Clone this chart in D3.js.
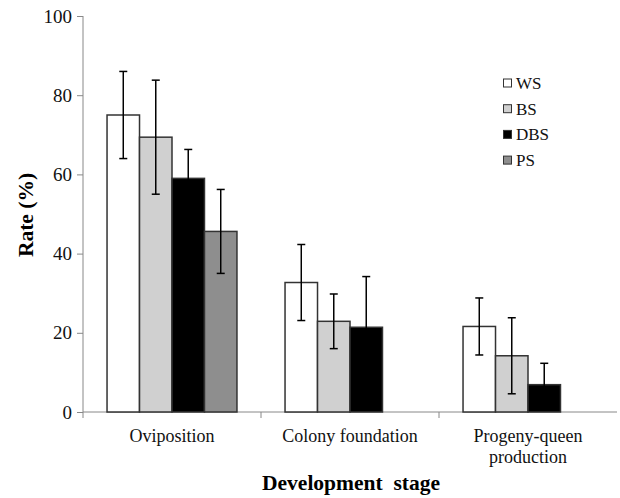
<!DOCTYPE html>
<html><head><meta charset="utf-8">
<script src="https://cdn.jsdelivr.net/npm/d3@7"></script>
<style>body{margin:0;background:#fff}svg{display:block}svg text{font-family:"Liberation Serif","Times New Roman",Times,serif}</style>
</head><body><svg id="c" width="620" height="498"></svg>
<script>
const categories = ["Oviposition", "Colony foundation", "Progeny-queen production"];
const series = ["WS", "BS", "DBS", "PS"];
const colors = ["#ffffff", "#d0d0d0", "#000000", "#8e8e8e"];
const valWS = [75, 32.7, 21.6];
const valBS = [69.4, 22.9, 14.2];
const valDBS = [59.0, 21.4, 6.9];
const valPS = [45.6, null, null];
const errWS = [11, 9.6, 7.2];
const errBS = [14.4, 6.9, 9.6];
const errDBS = [7.3, 12.8, 5.4];
const errPS = [10.6, null, null];
const yTicks = [0, 20, 40, 60, 80, 100];

const values = [valWS, valBS, valDBS, valPS];
const errs = [errWS, errBS, errDBS, errPS];

const svg = d3.select("#c");
const x = d3.scaleBand().domain(categories).range([83, 617]);
const xs = d3.scaleBand().domain(series).range([0, x.bandwidth()]).paddingOuter(0.74).paddingInner(0);
const y = d3.scaleLinear().domain([0, 100]).range([412, 16]);

// y axis
const ya = svg.append("g").attr("transform", "translate(83,0)")
  .call(d3.axisLeft(y).tickValues(yTicks).tickSize(6).tickPadding(5));
ya.attr("font-family", null);
ya.select(".domain").attr("stroke", "#888").attr("d", "M0,16V418");
ya.selectAll(".tick line").attr("stroke", "#888");
ya.selectAll("text").attr("font-size", 19).attr("fill", "#111");

// x axis
const xa = svg.append("g").attr("transform", "translate(0,412)");
xa.append("line").attr("x1", 83).attr("x2", 617).attr("stroke", "#888");
[83 + x.bandwidth(), 83 + 2 * x.bandwidth()].forEach(px =>
  xa.append("line").attr("x1", px).attr("x2", px).attr("y1", 0).attr("y2", 6).attr("stroke", "#888"));

const labelLines = [["Oviposition"], ["Colony foundation"], ["Progeny-queen", "production"]];
categories.forEach((c, i) => {
  const t = svg.append("text").attr("x", x(c) + x.bandwidth() / 2).attr("y", 442)
    .attr("text-anchor", "middle").attr("font-size", 18).attr("fill", "#111");
  labelLines[i].forEach((l, j) => t.append("tspan").attr("x", x(c) + x.bandwidth() / 2).attr("dy", j ? 21 : 0).text(l));
});

// bars
series.forEach((s, si) => {
  categories.forEach((c, ci) => {
    const v = values[si][ci];
    if (v == null) return;
    svg.append("rect").attr("x", x(c) + xs(s)).attr("y", y(v))
      .attr("width", xs.bandwidth()).attr("height", y(0) - y(v))
      .attr("fill", colors[si]).attr("stroke", "#333").attr("stroke-width", 1.5);
  });
});
// error bars
series.forEach((s, si) => {
  categories.forEach((c, ci) => {
    const v = values[si][ci], e = errs[si][ci];
    if (v == null) return;
    const cx = x(c) + xs(s) + xs.bandwidth() / 2;
    const g = svg.append("g").attr("stroke", "#000").attr("stroke-width", 1.5);
    g.append("line").attr("x1", cx).attr("x2", cx).attr("y1", y(v + e)).attr("y2", y(v - e));
    [v + e, v - e].forEach(t => g.append("line").attr("x1", cx - 4).attr("x2", cx + 4).attr("y1", y(t)).attr("y2", y(t)));
  });
});

// legend
series.forEach((s, i) => {
  const cy = 83 + i * 25.7;
  svg.append("rect").attr("x", 503.5).attr("y", cy - 4).attr("width", 8).attr("height", 8)
    .attr("fill", colors[i]).attr("stroke", "#333").attr("stroke-width", 1);
  svg.append("text").attr("x", 516).attr("y", cy + 6).attr("font-size", 17)
    .attr("fill", "#111").text(s);
});

// titles
svg.append("text").attr("transform", "translate(33,215) rotate(-90)").attr("text-anchor", "middle")
  .attr("font-size", 21.5).attr("font-weight", "bold").text("Rate (%)");
svg.append("text").attr("x", 351).attr("y", 490).attr("text-anchor", "middle")
  .attr("font-size", 21.5).attr("font-weight", "bold")
  .style("white-space", "pre").text("Development  stage");
</script></body></html>
